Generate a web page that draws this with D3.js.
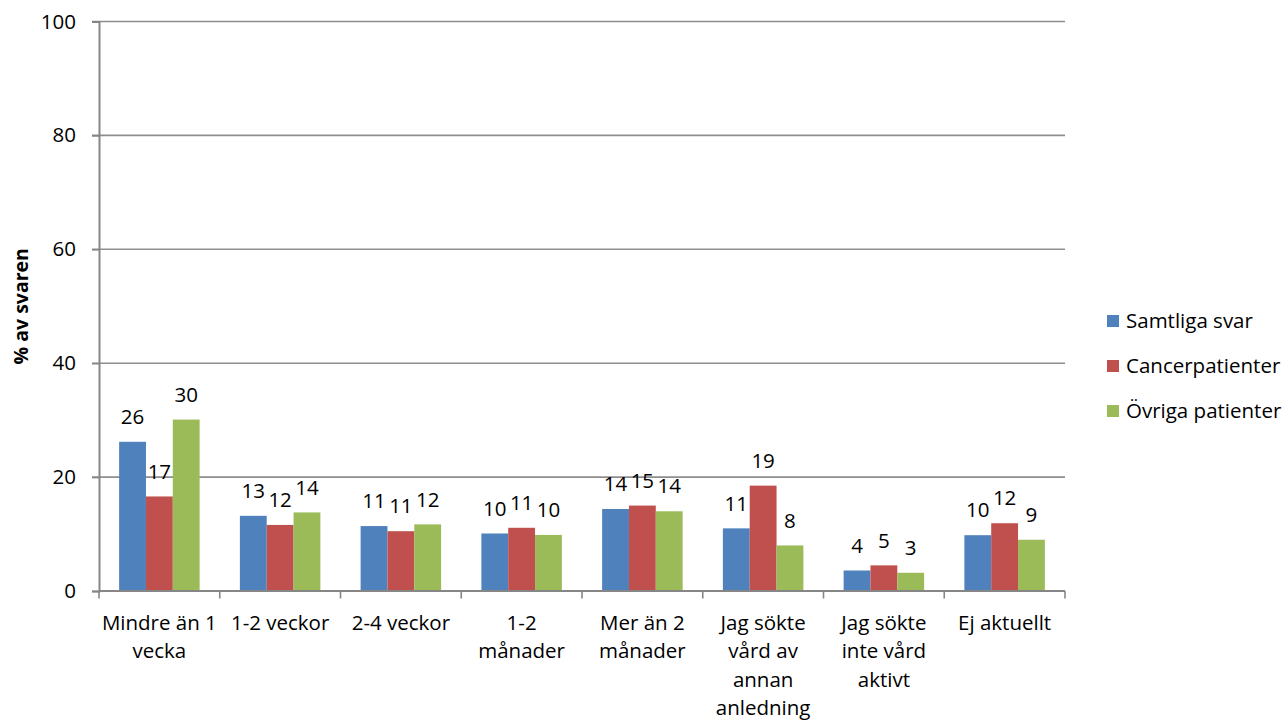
<!DOCTYPE html>
<html>
<head>
<meta charset="utf-8">
<script src="https://cdn.jsdelivr.net/npm/d3@7"></script>
<style>
  html, body { margin: 0; padding: 0; background: #fff; }
  svg { display: block; }
  text { font-family: "Open Sans", sans-serif; fill: #000; }
</style>
</head>
<body>
<svg id="chart" width="1285" height="720"></svg>
<script>
// ---- data ----
const categories = [
  "Mindre än 1\nvecka",
  "1-2 veckor",
  "2-4 veckor",
  "1-2\nmånader",
  "Mer än 2\nmånader",
  "Jag sökte\nvård av\nannan\nanledning",
  "Jag sökte\ninte vård\naktivt",
  "Ej aktuellt"
];
const seriesNames = ["Samtliga svar", "Cancerpatienter", "Övriga patienter"];
const samtliga   = [26.2, 13.2, 11.4, 10.1, 14.4, 11.0, 3.6, 9.8];
const cancer     = [16.6, 11.6, 10.5, 11.1, 15.0, 18.5, 4.5, 11.9];
const ovriga     = [30.1, 13.8, 11.7, 9.85, 14.0, 8.0, 3.2, 9.0];
const yTicks = [0, 20, 40, 60, 80, 100];
const yTitle = "% av svaren";
const colors = ["#4F81BD", "#C0504D", "#9BBB59"];

const seriesValues = [samtliga, cancer, ovriga];

// ---- layout ----
const svg = d3.select("#chart");
const pLeft = 99, pRight = 1065, pTop = 21.5, pBottom = 591;
const fontSize = 20.5;

const x0 = d3.scaleBand().domain(categories).range([pLeft, pRight]).padding(0);
const x1 = d3.scaleBand().domain(seriesNames).range([0, x0.bandwidth()])
  .paddingInner(0).paddingOuter(0.75);
const y = d3.scaleLinear().domain([0, 100]).range([pBottom, pTop]);

// gridlines
svg.append("g")
  .selectAll("line")
  .data(yTicks.filter(d => d > 0))
  .join("line")
  .attr("x1", pLeft - 7).attr("x2", pRight)
  .attr("y1", d => y(d)).attr("y2", d => y(d))
  .attr("stroke", "#8e8e8e").attr("stroke-width", 1.6);

// y axis
const yAxis = d3.axisLeft(y).tickValues(yTicks).tickSize(7).tickPadding(16);
const gy = svg.append("g").attr("transform", `translate(${pLeft},0)`).call(yAxis);
gy.select(".domain").attr("stroke", "#868686").attr("stroke-width", 2);
gy.selectAll(".tick line").attr("stroke", "#868686").attr("stroke-width", 1.6);
gy.selectAll(".tick text").style("font-family", "Open Sans").style("font-size", fontSize + "px").attr("fill", "#000");

// y title
svg.append("text")
  .attr("transform", `translate(21,${(pTop + pBottom) / 2}) rotate(-90)`)
  .attr("text-anchor", "middle")
  .attr("dy", "0.35em")
  .style("font-size", "19.5px")
  .style("font-weight", "bold")
  .text(yTitle);

// bars
const groups = svg.append("g").selectAll("g")
  .data(categories)
  .join("g")
  .attr("transform", d => `translate(${x0(d)},0)`);

groups.selectAll("rect")
  .data((c, i) => seriesNames.map((s, j) => ({ s, j, v: seriesValues[j][i] })))
  .join("rect")
  .attr("x", d => x1(d.s))
  .attr("width", x1.bandwidth())
  .attr("y", d => y(d.v))
  .attr("height", d => y(0) - y(d.v))
  .attr("fill", d => colors[d.j]);

groups.selectAll("text.lbl")
  .data((c, i) => seriesNames.map((s, j) => ({ s, j, v: seriesValues[j][i] })))
  .join("text")
  .attr("class", "lbl")
  .attr("x", d => x1(d.s) + x1.bandwidth() / 2)
  .attr("y", d => y(d.v) - 25)
  .attr("dy", "0.35em")
  .attr("text-anchor", "middle")
  .style("font-size", fontSize + "px")
  .text(d => Math.round(d.v));

// x axis line
svg.append("line")
  .attr("x1", pLeft).attr("x2", pRight)
  .attr("y1", pBottom).attr("y2", pBottom)
  .attr("stroke", "#868686").attr("stroke-width", 2);

// x axis boundary ticks
const bounds = categories.map(c => x0(c)).concat([x0(categories[categories.length - 1]) + x0.bandwidth()]);
svg.append("g").selectAll("line")
  .data(bounds)
  .join("line")
  .attr("x1", d => d).attr("x2", d => d)
  .attr("y1", pBottom).attr("y2", pBottom + 7.5)
  .attr("stroke", "#868686").attr("stroke-width", 1.6);

// category labels
const lineH = 28.4;
svg.append("g").selectAll("text")
  .data(categories)
  .join("text")
  .attr("text-anchor", "middle")
  .style("font-size", fontSize + "px")
  .each(function(d) {
    const t = d3.select(this);
    d.split("\n").forEach((ln, k) => {
      t.append("tspan")
        .attr("x", x0(d) + x0.bandwidth() / 2)
        .attr("y", 630 + k * lineH)
        .text(ln);
    });
  });

// legend
const legY = [321, 366, 411];
const leg = svg.append("g").selectAll("g")
  .data(seriesNames)
  .join("g")
  .attr("transform", (d, i) => `translate(1107,${legY[i]})`);
leg.append("rect")
  .attr("x", 0).attr("y", -6).attr("width", 12).attr("height", 12)
  .attr("fill", (d, i) => colors[i]);
leg.append("text")
  .attr("x", 19).attr("dy", "0.35em")
  .style("font-size", fontSize + "px")
  .text(d => d);
</script>
</body>
</html>
